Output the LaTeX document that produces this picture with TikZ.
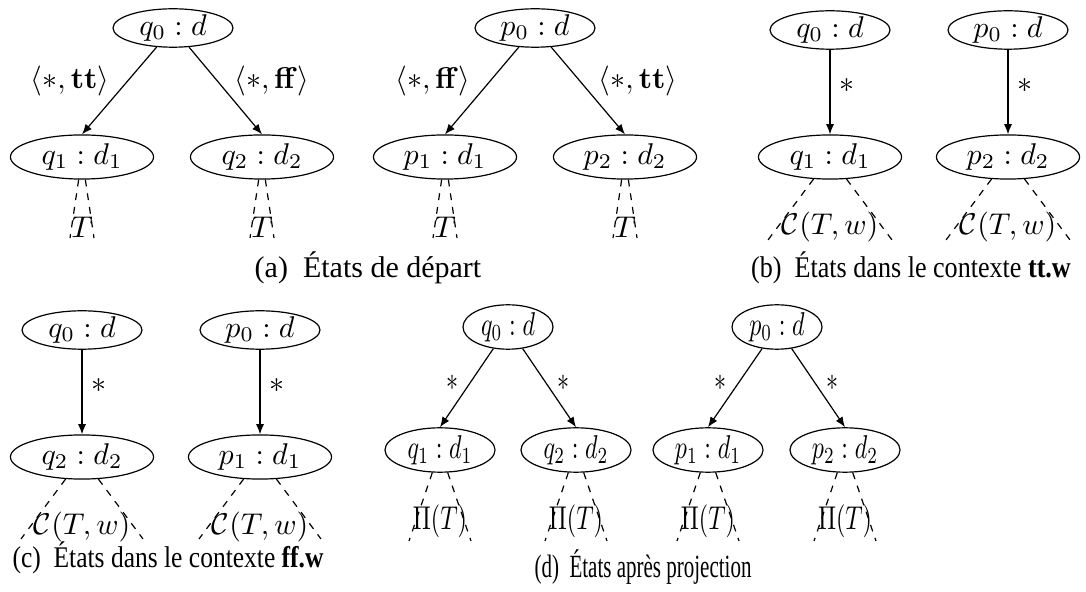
\documentclass[tikz,border=0pt]{standalone}
\usepackage[no-math]{fontspec}
\usepackage{amsmath,amssymb}
\usetikzlibrary{shapes.geometric,arrows.meta}
\setmainfont{Liberation Serif}
\newcommand{\dsc}[1]{\scalebox{0.8}[1.1]{#1}}
\tikzset{
  root/.style={ellipse,draw,inner sep=0pt,minimum width=40pt,minimum height=12.8pt},
  kid/.style={ellipse,draw,inner sep=0pt,minimum width=47.7pt,minimum height=14.7pt},
  droot/.style={ellipse,draw,inner sep=0pt,minimum width=30pt,minimum height=14.8pt},
  dkid/.style={ellipse,draw,inner sep=0pt,minimum width=36.7pt,minimum height=14.8pt},
  sub/.style={inner sep=0pt},
  arr/.style={-{Latex[length=3.4pt,width=2.7pt]}},
  tri/.style={dash pattern=on 2.3pt off 2.3pt},
  lbl/.style={inner sep=0pt},
  captxt/.style={inner sep=0pt,font=\rmfamily\fontsize{10}{12}\selectfont}
}
\begin{document}
\begin{tikzpicture}[x=0.33333pt,y=-0.33333pt]
\useasboundingbox (0,0) rectangle (1086,592);
% ---------------- (a)
\node[root] (qa0) at (173,28) {$q_0 : d$};
\node[kid] (qa1) at (82,157) {$q_1 : d_1$};
\node[kid] (qa2) at (262,157) {$q_2 : d_2$};
\node[root] (pa0) at (535,28) {$p_0 : d$};
\node[kid] (pa1) at (445,157) {$p_1 : d_1$};
\node[kid] (pa2) at (625,157) {$p_2 : d_2$};
\draw[arr] (qa0) -- (qa1.north);
\draw[arr] (qa0) -- (qa2.north);
\draw[arr] (pa0) -- (pa1.north);
\draw[arr] (pa0) -- (pa2.north);
\node[lbl] (la1) at (70,81) {$\langle *, \mathbf{tt}\rangle$};
\node[lbl] (la2) at (272,81) {$\langle *, \mathbf{ff}\rangle$};
\node[lbl] (la3) at (433,81) {$\langle *, \mathbf{ff}\rangle$};
\node[lbl] (la4) at (638,81) {$\langle *, \mathbf{tt}\rangle$};
\foreach \n/\x in {qa1/82,qa2/262,pa1/445,pa2/625}{
  \node[sub] (T\n) at (\x,227) {$T$};
  \coordinate (L\n) at (\x-12,238);
  \coordinate (R\n) at (\x+12,238);
  \draw[tri] (\n) -- (L\n);
  \draw[tri] (\n) -- (R\n);
}
\node[captxt] (capa) at (368,268) {(a)\enspace États de départ};
% ---------------- (b)
\node[root] (qb0) at (830,30) {$q_0 : d$};
\node[kid] (qb1) at (830,157) {$q_1 : d_1$};
\node[root] (pb0) at (1008,30) {$p_0 : d$};
\node[kid] (pb2) at (1008,157) {$p_2 : d_2$};
\draw[arr] (qb0) -- node[lbl,pos=0.42,right=3pt] {$*$} (qb1);
\draw[arr] (pb0) -- node[lbl,pos=0.42,right=3pt] {$*$} (pb2);
\foreach \n/\x in {qb1/830,pb2/1008}{
  \node[sub] (C\n) at (\x,227) {$\mathcal{C}(T,w)$};
  \coordinate (L\n) at (\x-62,240);
  \coordinate (R\n) at (\x+62,240);
  \draw[tri] (\n) -- (L\n);
  \draw[tri] (\n) -- (R\n);
}
\node[captxt] (capb) at (911,268) {\scalebox{0.87}[1]{(b)\enspace États dans le contexte \textbf{tt.w}}};
% ---------------- (c)
\node[root] (qc0) at (82,330) {$q_0 : d$};
\node[kid] (qc2) at (82,457) {$q_2 : d_2$};
\node[root] (pc0) at (260,330) {$p_0 : d$};
\node[kid] (pc1) at (260,457) {$p_1 : d_1$};
\draw[arr] (qc0) -- node[lbl,pos=0.42,right=3pt] {$*$} (qc2);
\draw[arr] (pc0) -- node[lbl,pos=0.42,right=3pt] {$*$} (pc1);
\foreach \n/\x in {qc2/82,pc1/260}{
  \node[sub] (C\n) at (\x,527) {$\mathcal{C}(T,w)$};
  \coordinate (L\n) at (\x-61,539);
  \coordinate (R\n) at (\x+61,539);
  \draw[tri] (\n) -- (L\n);
  \draw[tri] (\n) -- (R\n);
}
\node[captxt,anchor=west] (capc) at (12,558) {\scalebox{0.85}[1]{(c)\enspace États dans le contexte \textbf{ff.w}}};
% ---------------- (d)
\node[droot] (qd0) at (508,327) {\dsc{$q_0 : d$}};
\node[dkid] (qd1) at (440,450) {\dsc{$q_1 : d_1$}};
\node[dkid] (qd2) at (576,450) {\dsc{$q_2 : d_2$}};
\node[droot] (pd0) at (777,327) {\dsc{$p_0 : d$}};
\node[dkid] (pd1) at (708,450) {\dsc{$p_1 : d_1$}};
\node[dkid] (pd2) at (845,450) {\dsc{$p_2 : d_2$}};
\draw[arr] (qd0) -- (qd1.north);
\draw[arr] (qd0) -- (qd2.north);
\draw[arr] (pd0) -- (pd1.north);
\draw[arr] (pd0) -- (pd2.north);
\node[lbl] (ld1) at (452,383) {\dsc{$*$}};
\node[lbl] (ld2) at (563,383) {\dsc{$*$}};
\node[lbl] (ld3) at (720,383) {\dsc{$*$}};
\node[lbl] (ld4) at (832,383) {\dsc{$*$}};
\foreach \n/\x in {qd1/440,qd2/576,pd1/708,pd2/845}{
  \node[sub] (P\n) at (\x,521) {\dsc{$\Pi(T)$}};
  \coordinate (L\n) at (\x-31,541);
  \coordinate (R\n) at (\x+31,541);
  \draw[tri] (\n) -- (L\n);
  \draw[tri] (\n) -- (R\n);
}
\node[captxt] (capd) at (643,567) {\scalebox{0.7}[1.08]{(d)\enspace États après projection}};
\end{tikzpicture}
\end{document}
